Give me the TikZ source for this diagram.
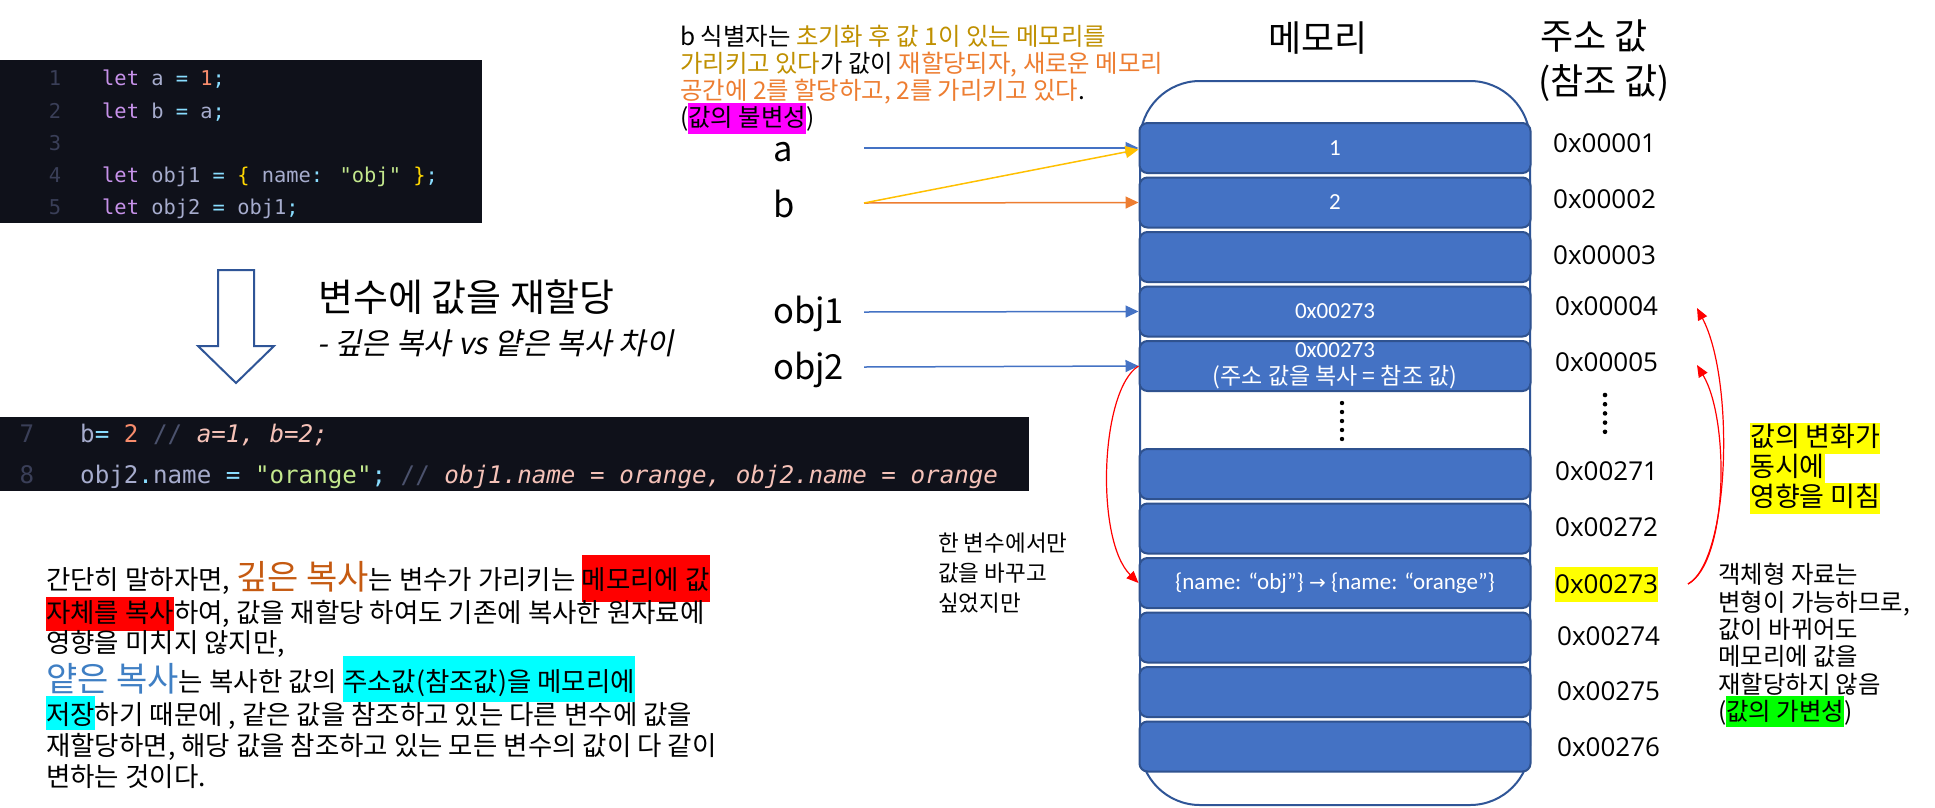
\documentclass[tikz,border=0pt]{standalone}
\usepackage{fontspec}
\setmainfont{Noto Sans CJK KR}
\newfontfamily\mono{DejaVu Sans Mono}
\newfontfamily\cali{Carlito}
\newfontfamily\osans{Open Sans}
\newfontfamily\krit[FakeSlant=0.2]{Noto Sans CJK KR}
\newfontfamily\djv{DejaVu Sans}
\usetikzlibrary{arrows.meta}
\definecolor{codebg}{HTML}{0F111A}
\definecolor{clnum}{HTML}{3A3F58}
\definecolor{ckw}{HTML}{C792EA}
\definecolor{cid}{HTML}{A6ACCD}
\definecolor{cop}{HTML}{89DDFF}
\definecolor{cnum}{HTML}{F78C6C}
\definecolor{cbr}{HTML}{FFD700}
\definecolor{cstr}{HTML}{C3E88D}
\definecolor{ccm}{HTML}{4B526D}
\definecolor{ccmt}{HTML}{F5C2B8}
\definecolor{boxfill}{HTML}{4472C4}
\definecolor{boxedge}{HTML}{2F528F}
\definecolor{contedge}{HTML}{2F5597}
\definecolor{ptrblue}{HTML}{4472C4}
\definecolor{ptryel}{HTML}{FFC000}
\definecolor{ptrorg}{HTML}{ED7D31}
\definecolor{gold}{HTML}{BF9000}
\definecolor{orng}{HTML}{ED7D31}
\definecolor{deepc}{HTML}{C55A11}
\definecolor{shalc}{HTML}{3F7FC4}
\definecolor{hlmag}{HTML}{FF00FF}
\definecolor{hlyel}{HTML}{FFFF00}
\definecolor{hlgrn}{HTML}{00FF00}
\definecolor{hlcyn}{HTML}{00FFFF}
\definecolor{hlred}{HTML}{FF0000}
\newcommand\fsz[2]{\fontsize{#1}{#2}\selectfont}
\newcommand\hlbox[4]{{\setlength{\fboxsep}{0pt}\colorbox{#1}{\rule[-#3pt]{0pt}{\dimexpr#2pt+#3pt\relax}#4}}}
\newcommand\ckw[1]{\textcolor{ckw}{#1}}
\newcommand\cop[1]{\textcolor{cop}{#1}}
\newcommand\cnm[1]{\textcolor{cnum}{#1}}
\newcommand\cbr[1]{\textcolor{cbr}{#1}}
\newcommand\cst[1]{\textcolor{cstr}{#1}}
\newcommand\ccm[1]{\textcolor{ccm}{#1}}
\newcommand\cct[1]{{\itshape\color{ccmt}#1}}
\begin{document}
\begin{tikzpicture}[x=1pt,y=-1pt,
  codebox/.style={fill=codebg,draw=none,inner sep=0,anchor=north west},
  codeA/.style={anchor=base west,inner sep=0,text=cid,font=\mono\fsz{20.4}{24}},
  codeB/.style={anchor=base west,inner sep=0,text=cid,font=\mono\fsz{24.2}{28}},
  lnumA/.style={anchor=base,inner sep=0,text=clnum,font=\mono\fsz{20.4}{24}},
  lnumB/.style={anchor=base,inner sep=0,text=clnum,font=\mono\fsz{24.2}{28}},
  membox/.style={draw=boxedge,fill=boxfill,line width=2pt,rounded corners=8pt,minimum width=391pt,minimum height=50pt,inner sep=0},
  boxtxt/.style={text=white,font=\cali\fsz{23}{27},inner sep=0},
  addr/.style={anchor=west,inner sep=0,font=\osans\fsz{26}{32}},
  varlbl/.style={anchor=base west,inner sep=0,font=\fsz{34.5}{40}},
  ptr/.style={line width=1.5pt,-{Triangle[length=13pt,width=12pt]}},
  redarr/.style={draw=red,line width=1.2pt,-{Triangle[length=12pt,width=10pt]}},
  note/.style={anchor=base west,inner sep=0,font=\fsz{24.4}{27}},
  para/.style={anchor=base west,inner sep=0,font=\fsz{26.5}{33}},
  side/.style={anchor=base west,inner sep=0,font=\fsz{22.5}{30}},
  yel/.style={anchor=base west,inner sep=0,font=\fsz{27}{30}},
  head/.style={inner sep=0,font=\fsz{36}{45}}
]
\useasboundingbox (0,0) rectangle (1935,807);
\fill[white] (0,0) rectangle (1935,807);

% ---------- code block 1 ----------
\node[codebox,minimum width=482pt,minimum height=163pt] (cb1) at (0,60) {};
\node[lnumA] (n1) at (55,85) {1};
\node[lnumA] (n2) at (55,118) {2};
\node[lnumA] (n3) at (55,150) {3};
\node[lnumA] (n4) at (55,182) {4};
\node[lnumA] (n5) at (55,214) {5};
\node[codeA] (k1) at (102,85) {\ckw{let} a \cop{=} \cnm{1}\cop{;}};
\node[codeA] (k2) at (102,118) {\ckw{let} b \cop{=} a\cop{;}};
\node[codeA] (k4) at (102,182) {\ckw{let} obj1 \cop{=} \cbr{\{} name\cop{:} \cst{"obj"} \cbr{\}}\cop{;}};
\node[codeA] (k5) at (102,214) {\ckw{let} obj2 \cop{=} obj1\cop{;}};

% ---------- down arrow and title ----------
\draw[contedge,line width=2pt,fill=white,line join=miter]
  (218,270) -- (254,270) -- (254,346) -- (274,346) -- (236,383) -- (198,346) -- (218,346) -- cycle;
\node[anchor=base west,inner sep=0,font=\fsz{38}{42}] (title) at (318,311) {변수에 값을 재할당};
\node[anchor=base west,inner sep=0,font=\krit\fsz{30}{34}] (subtitle) at (317,354) {- 깊은 복사 vs 얕은 복사 차이};

% ---------- code block 2 ----------
\node[codebox,minimum width=1029pt,minimum height=74pt] (cb2) at (0,417) {};
\node[lnumB] (n7) at (27,442) {7};
\node[lnumB] (n8) at (27,483) {8};
\node[codeB] (k7) at (80,442) {b\cop{=} \cnm{2} \ccm{//} \cct{a=1, b=2;}};
\node[codeB] (k8) at (80,483) {obj2\cop{.}name \cop{=} \cst{"orange"}\cop{;} \ccm{//} \cct{obj1.name = orange, obj2.name = orange}};

% ---------- explanation paragraph ----------
\node[para] (p1) at (46,589) {간단히 말하자면, {\fsz{34}{33}\color{deepc}깊은 복사}는 변수가 가리키는 \hlbox{hlred}{34}{13}{메모리에 값}};
\node[para] (p2) at (46,622) {\hlbox{hlred}{25}{9}{자체를 복사}하여, 값을 재할당 하여도 기존에 복사한 원자료에};
\node[para] (p3) at (46,652) {영향을 미치지 않지만,};
\node[para] (p4) at (46,691) {{\fsz{34}{33}\color{shalc}얕은 복사}는 복사한 값의 \hlbox{hlcyn}{35}{11}{주소값(참조값)을 메모리에}};
\node[para] (p5) at (46,724) {\hlbox{hlcyn}{28}{6}{저장}하기 때문에 , 같은 값을 참조하고 있는 다른 변수에 값을};
\node[para] (p6) at (46,755) {재할당하면, 해당 값을 참조하고 있는 모든 변수의 값이 다 같이};
\node[para] (p7) at (46,786) {변하는 것이다.};

% ---------- top note ----------
\node[note] (t1) at (680,45) {b 식별자는 \textcolor{gold}{초기화 후 값 1이 있는 메모리를}};
\node[note] (t2) at (680,72) {\textcolor{gold}{가리키고 있다}가 값이 \textcolor{orng}{재할당되자, 새로운 메모리}};
\node[note] (t3) at (680,99) {\textcolor{orng}{공간에 2를 할당하고, 2를 가리키고 있다}.};
\node[note] (t4) at (680,126) {(\hlbox{hlmag}{23}{8}{값의 불변성})};

% ---------- memory ----------
\node[draw=contedge,line width=2pt,rounded corners=60pt,minimum width=390pt,minimum height=724pt,inner sep=0,fill=white] (mem) at (1335,443) {};
\node[head,anchor=base] (hmem) at (1318,51) {메모리};
\node[head,anchor=base west] (haddr1) at (1540,49) {주소 값};
\node[head,anchor=base west] (haddr2) at (1538,94) {(참조 값)};

\node[membox] (m1) at (1335,148) {};
\node[membox] (m2) at (1335,202.5) {};
\node[membox] (m3) at (1335,257) {};
\node[membox] (m4) at (1335,311.5) {};
\node[membox] (m5) at (1335,366) {};
\node[membox] (m6) at (1335,474) {};
\node[membox] (m7) at (1335,528.5) {};
\node[membox] (m8) at (1335,583) {};
\node[membox] (m9) at (1335,637.5) {};
\node[membox] (m10) at (1335,692) {};
\node[membox] (m11) at (1335,746.5) {};

\node[boxtxt] (v1) at (m1) {1};
\node[boxtxt] (v2) at (m2) {2};
\node[boxtxt] (v4) at (m4) {0x00273};
\node[boxtxt,align=center] (v5) at (m5) {0x00273\\{\rmfamily\fsz{23}{27}(주소 값을 복사 = 참조 값)}};
\node[boxtxt] (v8) at (m8) {\{name: “obj”\} {\djv\fsz{20}{27}→} \{name: “orange”\}};

\foreach \k in {0,...,4} \fill (1342,403+9*\k) circle (2.2pt);

% ---------- addresses ----------
\node[addr] (a1) at (1553,143) {0x00001};
\node[addr] (a2) at (1553,199) {0x00002};
\node[addr] (a3) at (1553,255) {0x00003};
\node[addr] (a4) at (1555,306) {0x00004};
\node[addr] (a5) at (1555,362) {0x00005};
\foreach \k in {0,...,4} \fill (1605,395+9.2*\k) circle (2.3pt);
\node[addr] (a271) at (1555,471) {0x00271};
\node[addr] (a272) at (1555,527) {0x00272};
\node[addr,fill=hlyel,minimum height=35pt] (a273) at (1555,584) {0x00273};
\node[addr] (a274) at (1557,636) {0x00274};
\node[addr] (a275) at (1557,691) {0x00275};
\node[addr] (a276) at (1557,747) {0x00276};

% ---------- variables and pointers ----------
\node[varlbl] (la) at (773,161) {a};
\node[varlbl] (lb) at (773,217) {b};
\node[varlbl] (lo1) at (773,323) {obj1};
\node[varlbl] (lo2) at (773,379) {obj2};
\coordinate (sa) at (864,148);
\coordinate (sb) at (864,203);
\coordinate (so1) at (864,312);
\coordinate (so2) at (864,367);
\draw[ptr,ptrblue] (sa) -- (m1.west);
\draw[ptr,ptrorg] (sb) -- (m2.west);
\draw[ptr,ptryel] (sb) -- ([yshift=-1.5pt]m1.west);
\draw[ptr,ptrblue] (so1) -- (m4.west);
\draw[ptr,ptrblue] (so2) -- (m5.west);

% ---------- red arrows ----------
\draw[redarr] (m5.west) .. controls (1100,390) and (1095,540) .. (m8.west);
\coordinate (r0) at (1688,584);
\coordinate (r4) at (1697,308);
\coordinate (r5) at (1697,365);
\draw[redarr] (r0) .. controls (1730,560) and (1735,380) .. (r4);
\draw[redarr] (r0) .. controls (1728,562) and (1730,420) .. (r5);

% ---------- side notes ----------
\node[side] (s1) at (938,551) {한 변수에서만};
\node[side] (s2) at (938,581) {값을 바꾸고};
\node[side] (s3) at (938,611) {싶었지만};

\node[yel] (y1) at (1750,446.5) {\hlbox{hlyel}{24}{7}{값의 변화가}};
\node[yel] (y2) at (1750,476.5) {\hlbox{hlyel}{24}{7}{동시에}};
\node[yel] (y3) at (1750,506.5) {\hlbox{hlyel}{24}{7}{영향을 미침}};

\node[note] (o1) at (1718,583.5) {객체형 자료는};
\node[note] (o2) at (1718,611.5) {변형이 가능하므로,};
\node[note] (o3) at (1718,638.5) {값이 바뀌어도};
\node[note] (o4) at (1718,665.5) {메모리에 값을};
\node[note] (o5) at (1718,693.5) {재할당하지 않음};
\node[note] (o6) at (1718,720.5) {(\hlbox{hlgrn}{24.5}{6.5}{값의 가변성})};
\end{tikzpicture}
\end{document}
